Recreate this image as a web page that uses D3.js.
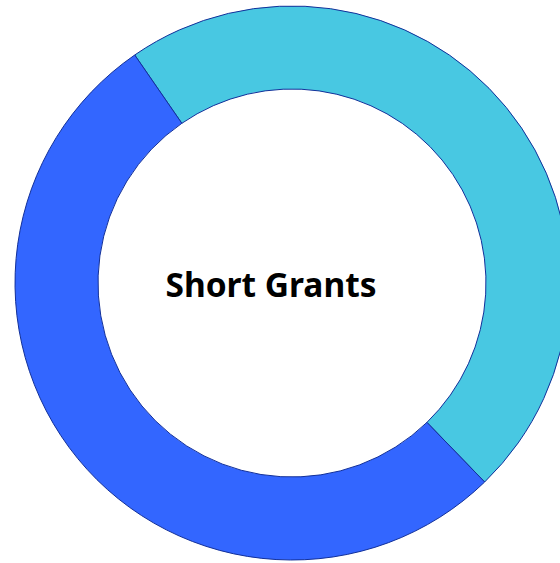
<!DOCTYPE html>
<html>
<head>
<meta charset="utf-8">
<script src="https://cdn.jsdelivr.net/npm/d3@7"></script>
<style>
  html, body { margin: 0; padding: 0; background: #fff; }
</style>
</head>
<body>
<div id="chart"></div>
<script>
const categories = ['Group A', 'Group B'];
const values = [9, 10];
const colors = ['#48c8e2', '#3366ff'];
const title = 'Short Grants';

const width = 560;
const height = 563;
const cx = 292;
const cy = 283;
const outerRadius = 277;
const innerRadius = 194;

const svg = d3.select('#chart').append('svg')
    .attr('width', width)
    .attr('height', height);

const g = svg.append('g').attr('transform', `translate(${cx},${cy})`);

const start = -34.6 * Math.PI / 180;
const pie = d3.pie()
    .sort(null)
    .value(d => d)
    .startAngle(start)
    .endAngle(start + 2 * Math.PI);

const arc = d3.arc().innerRadius(innerRadius).outerRadius(outerRadius);

g.selectAll('path.slice')
    .data(pie(values))
    .join('path')
    .attr('class', 'slice')
    .attr('d', arc)
    .attr('fill', (d, i) => colors[i])
    .attr('stroke', '#12309a')
    .attr('stroke-width', 1);

svg.append('text')
    .attr('x', 271)
    .attr('y', 296.5)
    .attr('text-anchor', 'middle')
    .style('font-family', '"Noto Sans", sans-serif')
    .style('font-weight', 'bold')
    .style('font-size', '33.5px')
    .attr('fill', '#000')
    .text(title);
</script>
</body>
</html>
